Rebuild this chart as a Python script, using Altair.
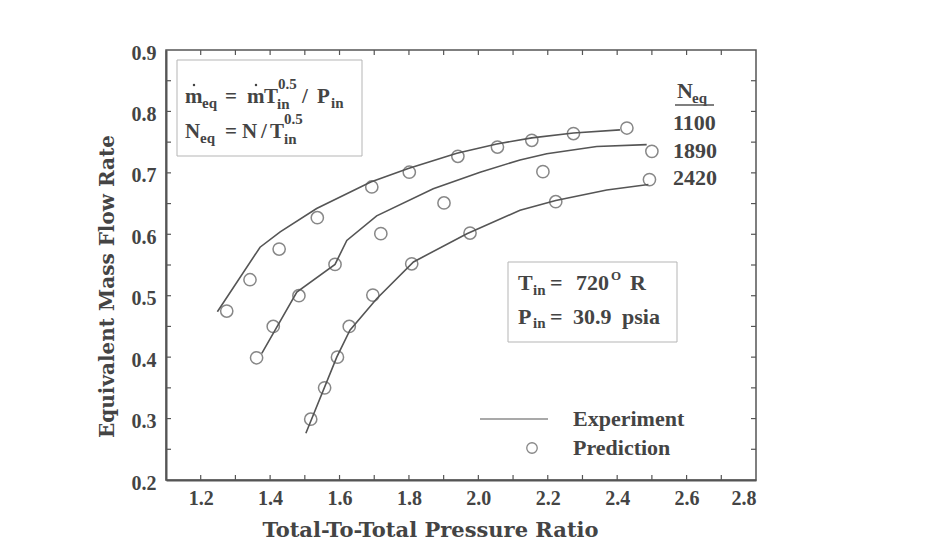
import altair as alt
import pandas as pd

# ---------------- data ----------------
series_names = ["1100", "1890", "2420"]

exp_x_1100 = [1.248, 1.371, 1.429, 1.534, 1.690, 1.798, 1.938, 2.053, 2.154, 2.274, 2.408]
exp_y_1100 = [0.474, 0.579, 0.604, 0.642, 0.685, 0.707, 0.732, 0.747, 0.757, 0.765, 0.770]
exp_x_1890 = [1.376, 1.477, 1.587, 1.621, 1.707, 1.870, 2.005, 2.120, 2.197, 2.341, 2.485]
exp_y_1890 = [0.406, 0.506, 0.551, 0.590, 0.630, 0.674, 0.701, 0.721, 0.731, 0.743, 0.746]
exp_x_2420 = [1.503, 1.592, 1.630, 1.707, 1.813, 1.967, 2.120, 2.223, 2.370, 2.490]
exp_y_2420 = [0.276, 0.400, 0.444, 0.495, 0.555, 0.601, 0.639, 0.655, 0.672, 0.681]

pred_x_1100 = [1.275, 1.342, 1.426, 1.536, 1.693, 1.801, 1.941, 2.055, 2.154, 2.274, 2.428]
pred_y_1100 = [0.475, 0.526, 0.576, 0.627, 0.677, 0.701, 0.727, 0.742, 0.753, 0.764, 0.773]
pred_x_1890 = [1.361, 1.409, 1.483, 1.587, 1.719, 1.901, 2.186, 2.500]
pred_y_1890 = [0.399, 0.450, 0.500, 0.551, 0.601, 0.651, 0.702, 0.735]
pred_x_2420 = [1.517, 1.557, 1.594, 1.628, 1.696, 1.808, 1.976, 2.223, 2.493]
pred_y_2420 = [0.299, 0.350, 0.400, 0.450, 0.501, 0.552, 0.602, 0.653, 0.689]

x_label_values = [1.2, 1.4, 1.6, 1.8, 2.0, 2.2, 2.4, 2.6, 2.8]
y_label_values = [0.2, 0.3, 0.4, 0.5, 0.6, 0.7, 0.8, 0.9]
x_minor_ticks = [1.2, 1.3, 1.4, 1.5, 1.6, 1.7, 1.8, 1.9, 2.0, 2.1, 2.2, 2.3, 2.4, 2.5, 2.6, 2.7]
y_minor_ticks = [0.25, 0.3, 0.35, 0.4, 0.45, 0.5, 0.55, 0.6, 0.65, 0.7, 0.75, 0.8, 0.85]

# ---------------- tables ----------------
exp_rows = []
for name, xs, ys in [("1100", exp_x_1100, exp_y_1100),
                     ("1890", exp_x_1890, exp_y_1890),
                     ("2420", exp_x_2420, exp_y_2420)]:
    for i, (a, b) in enumerate(zip(xs, ys)):
        exp_rows.append({"series": name, "i": i, "x": a, "y": b})
exp_df = pd.DataFrame(exp_rows)

pred_rows = []
for name, xs, ys in [("1100", pred_x_1100, pred_y_1100),
                     ("1890", pred_x_1890, pred_y_1890),
                     ("2420", pred_x_2420, pred_y_2420)]:
    for a, b in zip(xs, ys):
        pred_rows.append({"series": name, "x": a, "y": b})
pred_df = pd.DataFrame(pred_rows)

xt_df = pd.DataFrame({"x": x_minor_ticks})
yt_df = pd.DataFrame({"y": y_minor_ticks})
one = pd.DataFrame({"k": [0]})

# ---------------- styling ----------------
W, H = 590, 430
GRAY = "#555555"
TXT = "#444444"
SERIF = "Liberation Serif"
TITLE_FONT = "DejaVu Serif"

x_scale = alt.Scale(domain=[1.1, 2.8], nice=False, zero=False)
y_scale = alt.Scale(domain=[0.2, 0.9], nice=False, zero=False)

x_axis = alt.Axis(values=x_label_values, format=".1f", ticks=False, grid=False,
                  domainColor=GRAY, domainWidth=2, labelPadding=8,
                  labelFont=SERIF, labelFontSize=20, labelFontWeight="bold",
                  labelColor=TXT, title="Total-To-Total Pressure Ratio",
                  titleFont=TITLE_FONT, titleFontSize=21, titleFontWeight="bold",
                  titleColor=TXT, titleX=264, titleY=50, titleBaseline="middle")
y_axis = alt.Axis(values=y_label_values, format=".1f", ticks=False, grid=False,
                  domainColor=GRAY, domainWidth=2, labelPadding=10, labelOffset=3,
                  labelFont=SERIF, labelFontSize=20, labelFontWeight="bold",
                  labelColor=TXT, title="Equivalent Mass Flow Rate",
                  titleFont=TITLE_FONT, titleFontSize=20, titleFontWeight="bold",
                  titleColor=TXT, titleX=-59, titleY=236, titleBaseline="middle",
                  titleAngle=270)

X = alt.X("x:Q", scale=x_scale, axis=x_axis)
Y = alt.Y("y:Q", scale=y_scale, axis=y_axis)

lines = alt.Chart(exp_df).mark_line(color=GRAY, strokeWidth=1.6).encode(
    x=X, y=Y, detail="series:N", order="i:Q")
points = alt.Chart(pred_df).mark_point(shape="circle", filled=False, size=150,
                                       strokeWidth=1.5, color=GRAY).encode(x=X, y=Y)

# inward ticks on all four sides
tick_bottom = alt.Chart(xt_df).mark_rule(color=GRAY, strokeWidth=1.2).encode(
    x=X, y=alt.value(H), y2=alt.value(H - 5))
tick_top = alt.Chart(xt_df).mark_rule(color=GRAY, strokeWidth=1.2).encode(
    x=X, y=alt.value(0), y2=alt.value(5))
tick_left = alt.Chart(yt_df).mark_rule(color=GRAY, strokeWidth=1.2).encode(
    y=Y, x=alt.value(0), x2=alt.value(5))
tick_right = alt.Chart(yt_df).mark_rule(color=GRAY, strokeWidth=1.2).encode(
    y=Y, x=alt.value(W), x2=alt.value(W - 5))


def txt(s, px, py, size=21, align="left"):
    return alt.Chart(one).mark_text(font=SERIF, fontSize=size, fontWeight="bold",
                                    color=TXT, align=align, baseline="middle").encode(
        x=alt.value(px), y=alt.value(py), text=alt.value(s))


def box(x1, y1, x2, y2):
    return alt.Chart(one).mark_rect(fillOpacity=0, stroke="#b5b5b5", strokeWidth=1).encode(
        x=alt.value(x1), x2=alt.value(x2), y=alt.value(y1), y2=alt.value(y2))


def dot(px, py):
    return alt.Chart(one).mark_point(shape="circle", filled=True, size=6, color=TXT,
                                     opacity=1).encode(x=alt.value(px), y=alt.value(py))


SUB = 15
annot = [
    box(11, 10, 196, 106),
    # line 1: m_eq = m T^0.5_in / P_in
    txt("m", 19, 47), dot(28, 35), txt("eq", 36, 53, SUB), txt("=", 59, 47),
    txt("m", 81, 47), dot(90, 35), txt("T", 98, 47), txt("0.5", 112, 34, SUB),
    txt("in", 111, 54, SUB), txt("/", 136, 47), txt("P", 151, 47), txt("in", 165, 53, SUB),
    # line 2: N_eq = N / T^0.5_in
    txt("N", 19, 82), txt("eq", 34, 88, SUB), txt("=", 59, 82), txt("N", 76, 82),
    txt("/", 95, 82), txt("T", 104, 82), txt("0.5", 118, 69, SUB), txt("in", 118, 89, SUB),
    # conditions box
    box(342, 212, 511, 292),
    txt("T", 352, 233, 22), txt("in", 367, 240, SUB), txt("=", 384, 233, 22),
    txt("720", 410, 233, 22), txt("O", 445, 226, 13), txt("R", 464, 233, 22),
    txt("P", 352, 267, 22), txt("in", 367, 273, SUB), txt("=", 384, 267, 22),
    txt("30.9", 407, 267, 22), txt("psia", 456, 267, 22),
    # N_eq header and values
    txt("N", 511, 41, 22), txt("eq", 526, 48, SUB),
    alt.Chart(one).mark_rule(color=GRAY, strokeWidth=1.5).encode(
        x=alt.value(509), x2=alt.value(548), y=alt.value(55)),
    txt(series_names[0], 507, 73, 22), txt(series_names[1], 507, 101, 22),
    txt(series_names[2], 507, 128, 22),
    # legend
    alt.Chart(one).mark_rule(color=GRAY, strokeWidth=1.2).encode(
        x=alt.value(314), x2=alt.value(382), y=alt.value(369)),
    txt("Experiment", 407, 369, 22),
    alt.Chart(one).mark_point(shape="circle", filled=False, size=110, strokeWidth=1.3,
                              color=GRAY).encode(x=alt.value(366), y=alt.value(398)),
    txt("Prediction", 407, 398, 22),
]

chart = alt.layer(lines, points, tick_bottom, tick_top, tick_left, tick_right, *annot).properties(
    width=W, height=H,
    autosize=alt.AutoSizeParams(type="none"),
    padding={"left": 166, "top": 50, "right": 174, "bottom": 62},
    background="white",
).configure_view(stroke=GRAY, strokeWidth=1.5)

chart.save("out.html", embed_options={"renderer": "svg", "actions": False})
